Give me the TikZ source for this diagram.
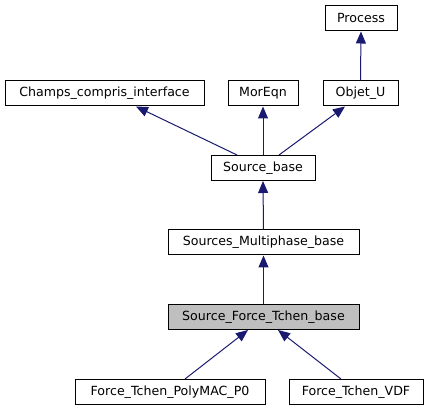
\documentclass[tikz,border=0pt]{standalone}
\usepackage{fontspec}
\setmainfont{DejaVu Sans}
\usetikzlibrary{arrows.meta}
\definecolor{edgeblue}{HTML}{191970}
\definecolor{hlgray}{HTML}{BFBFBF}
\begin{document}
\begin{tikzpicture}[x=1pt,y=-1pt,
  cls/.style={draw=black,line width=1pt,fill=white,minimum height=25pt,inner sep=0pt,font=\fontsize{12.6}{14}\selectfont},
  inh/.style={draw=edgeblue,line width=1pt,-{Triangle[length=12pt,width=10pt]},color=edgeblue}]
\useasboundingbox (0,0) rectangle (429,411);
\node[cls,minimum width=72pt] (pr) at (361,18.5) {Process};
\node[cls,minimum width=199pt] (cc) at (104.5,93.5) {Champs\_compris\_interface};
\node[cls,minimum width=70pt] (me) at (263,93.5) {MorEqn};
\node[cls,minimum width=75pt] (ou) at (360.5,93.5) {Objet\_U};
\node[cls,minimum width=104pt] (sb) at (263,168) {Source\_base};
\node[cls,minimum width=191pt] (sm) at (263.5,242.5) {Sources\_Multiphase\_base};
\node[cls,minimum width=191pt,fill=hlgray] (sf) at (263.5,317) {Source\_Force\_Tchen\_base};
\node[cls,minimum width=190pt] (pm) at (170,392) {Force\_Tchen\_PolyMAC\_P0};
\node[cls,minimum width=134pt] (vd) at (356,392) {Force\_Tchen\_VDF};
\draw[inh] (ou.north) -- (pr.south);
\draw[inh] ([xshift=-26pt]sb.north) -- ([xshift=31.5pt]cc.south);
\draw[inh] (sb.north) -- (me.south);
\draw[inh] ([xshift=16pt]sb.north) -- ([xshift=-15.5pt]ou.south);
\draw[inh] (sm.north) -- (sb.south);
\draw[inh] (sf.north) -- (sm.south);
\draw[inh] ([xshift=15pt]pm.north) -- ([xshift=-15.5pt]sf.south);
\draw[inh] ([xshift=-15pt]vd.north) -- ([xshift=14.5pt]sf.south);
\end{tikzpicture}
\end{document}
